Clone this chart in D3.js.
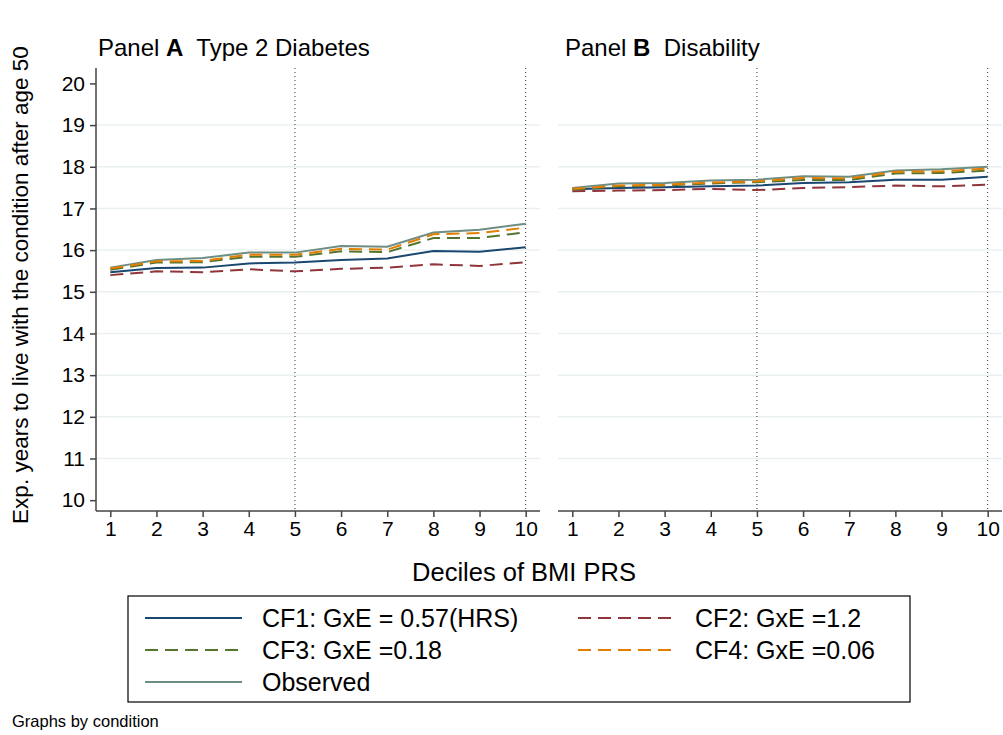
<!DOCTYPE html>
<html><head><meta charset="utf-8">
<script src="https://cdn.jsdelivr.net/npm/d3@7"></script>
<style>body{margin:0;background:#fff;} svg{display:block;font-family:"Liberation Sans",Arial,sans-serif;}</style>
</head><body>
<script>
const deciles = [1,2,3,4,5,6,7,8,9,10];
const yTicks = [10,11,12,13,14,15,16,17,18,19,20];
const panelTitles = [["Panel ","A","  Type 2 Diabetes"],["Panel ","B","  Disability"]];
const seriesNames = ["CF1: GxE = 0.57(HRS)","CF2: GxE =1.2","CF3: GxE =0.18","CF4: GxE =0.06","Observed"];
// Panel A: Type 2 Diabetes
const a_cf1 = [15.47,15.57,15.58,15.68,15.70,15.76,15.80,15.98,15.96,16.07];
const a_cf2 = [15.40,15.49,15.47,15.54,15.49,15.55,15.58,15.66,15.62,15.71];
const a_cf3 = [15.53,15.70,15.71,15.84,15.84,15.97,15.95,16.29,16.29,16.43];
const a_cf4 = [15.56,15.73,15.74,15.89,15.89,16.03,16.01,16.38,16.41,16.54];
const a_obs = [15.58,15.76,15.81,15.94,15.94,16.10,16.08,16.42,16.49,16.63];
// Panel B: Disability
const b_cf1 = [17.46,17.49,17.51,17.53,17.55,17.61,17.63,17.69,17.69,17.76];
const b_cf2 = [17.41,17.43,17.44,17.47,17.44,17.49,17.51,17.55,17.53,17.57];
const b_cf3 = [17.45,17.53,17.55,17.60,17.63,17.68,17.68,17.84,17.85,17.91];
const b_cf4 = [17.47,17.55,17.57,17.62,17.65,17.73,17.72,17.88,17.89,17.96];
const b_obs = [17.49,17.60,17.61,17.67,17.69,17.77,17.76,17.91,17.94,18.00];

const colors = ["#1a476f","#90353b","#55752f","#e37e00","#6e8e84"];
const dashes = [null,"13,7","13,7","13,7",null];

const W=1003,H=735;
const svg = d3.select("body").append("svg").attr("width",W).attr("height",H);
const y = d3.scaleLinear().domain([9.74,20.37]).range([511,68]);
const panels = [
  {x0:96,x1:540,data:[a_cf1,a_cf2,a_cf3,a_cf4,a_obs],title:panelTitles[0],tx:98,showY:true},
  {x0:558,x1:1002,data:[b_cf1,b_cf2,b_cf3,b_cf4,b_obs],title:panelTitles[1],tx:565,showY:false}
];
panels.forEach(p=>{
  const x = d3.scaleLinear().domain([0.69,10.31]).range([p.x0,p.x1]);
  const g = svg.append("g");
  g.selectAll("line.grid").data(yTicks.slice(1,-1)).enter().append("line")
    .attr("x1",p.x0).attr("x2",p.x1).attr("y1",d=>y(d)).attr("y2",d=>y(d))
    .attr("stroke","#eaf0f2").attr("stroke-width",1.5);
  g.selectAll("line.vl").data([5,10]).enter().append("line")
    .attr("x1",d=>x(d)).attr("x2",d=>x(d)).attr("y1",68).attr("y2",511)
    .attr("stroke","#333").attr("stroke-width",1).attr("stroke-dasharray","1,3");
  const line = d3.line().x((d,i)=>x(deciles[i])).y(d=>y(d));
  [4,0,1,2,3].forEach(k=>{
    g.append("path").datum(p.data[k]).attr("d",line).attr("fill","none")
      .attr("stroke",colors[k]).attr("stroke-width",2)
      .attr("stroke-dasharray",dashes[k]);
  });
  const xa = g.append("g").attr("transform","translate(0,511)")
    .call(d3.axisBottom(x).tickValues(deciles).tickSize(6).tickPadding(4).tickFormat(d3.format("d")));
  xa.select(".domain").attr("stroke","#444").attr("stroke-width",1.5).attr("d",`M${p.x0},0H${p.x1}`);
  xa.selectAll(".tick line").attr("stroke","#444").attr("stroke-width",1.5);
  xa.selectAll("text").attr("font-size",21).attr("fill","#000").attr("font-family","Liberation Sans, Arial, sans-serif");
  if(p.showY){
    const ya = g.append("g").attr("transform",`translate(${p.x0},0)`)
      .call(d3.axisLeft(y).tickValues(yTicks).tickSize(6).tickPadding(5).tickFormat(d3.format("d")));
    ya.select(".domain").attr("stroke","#444").attr("stroke-width",1.5).attr("d","M0,68V511");
    ya.selectAll(".tick line").attr("stroke","#444").attr("stroke-width",1.5);
    ya.selectAll("text").attr("font-size",21).attr("fill","#000").attr("font-family","Liberation Sans, Arial, sans-serif");
  }
  const t = svg.append("text").attr("x",p.tx).attr("y",56).attr("font-size",24).attr("fill","#000");
  t.append("tspan").text(p.title[0]);
  t.append("tspan").attr("font-weight","bold").text(p.title[1]);
  t.append("tspan").style("white-space","pre").text(p.title[2]);
});
svg.append("text").attr("transform","translate(28,285) rotate(-90)").attr("text-anchor","middle")
  .attr("font-size",22.5).text("Exp. years to live with the condition after age 50");
svg.append("text").attr("x",524).attr("y",581).attr("text-anchor","middle")
  .attr("font-size",25.5).text("Deciles of BMI PRS");
svg.append("rect").attr("x",128).attr("y",596).attr("width",782).attr("height",106)
  .attr("fill","#fff").attr("stroke","#000").attr("stroke-width",1.2);
const legPos = [[145,618],[578,618],[145,650],[578,650],[145,682]];
seriesNames.forEach((n,k)=>{
  const [lx,ly]=legPos[k];
  svg.append("line").attr("x1",lx).attr("x2",lx+97).attr("y1",ly).attr("y2",ly)
    .attr("stroke",colors[k]).attr("stroke-width",2).attr("stroke-dasharray",dashes[k]);
  svg.append("text").attr("x",lx+117).attr("y",ly).attr("dy","0.36em").attr("font-size",25).text(n);
});
svg.append("text").attr("x",12).attr("y",727).attr("font-size",16.5).text("Graphs by condition");
</script>
</body></html>
